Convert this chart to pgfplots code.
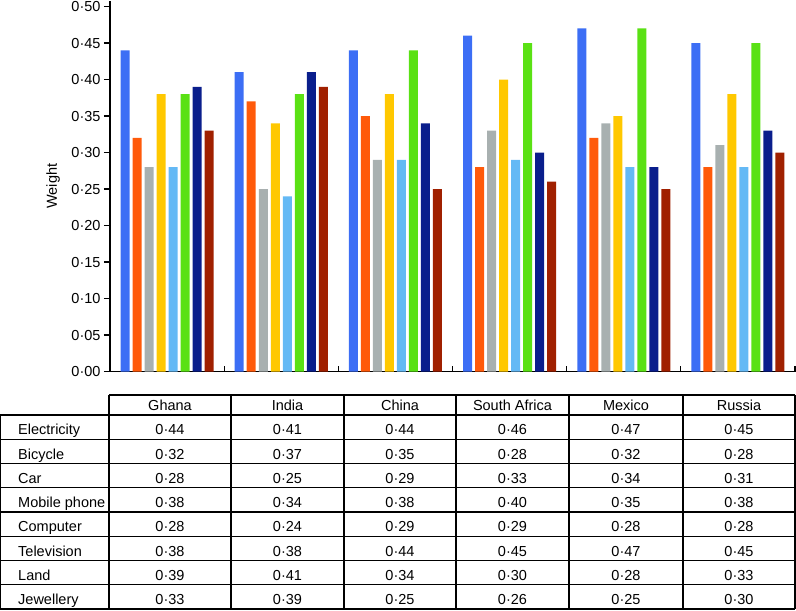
\documentclass[border=0pt]{standalone}
\usepackage{pgfplots}
\pgfplotsset{compat=1.18}
\usepackage{pgfplotstable}
\usepackage{fontspec}
\setmainfont{Liberation Sans}

\definecolor{cElec}{RGB}{60,110,245}
\definecolor{cBike}{RGB}{255,90,10}
\definecolor{cCar}{RGB}{168,176,176}
\definecolor{cMob}{RGB}{255,200,0}
\definecolor{cComp}{RGB}{100,185,245}
\definecolor{cTV}{RGB}{90,225,20}
\definecolor{cLand}{RGB}{10,30,140}
\definecolor{cJew}{RGB}{160,32,0}

\pgfplotstableread{
x elec bike car mobile comp tv land jewel
0 0.44 0.32 0.28 0.38 0.28 0.38 0.39 0.33
1 0.41 0.37 0.25 0.34 0.24 0.38 0.41 0.39
2 0.44 0.35 0.29 0.38 0.29 0.44 0.34 0.25
3 0.46 0.28 0.33 0.40 0.29 0.45 0.30 0.26
4 0.47 0.32 0.34 0.35 0.28 0.47 0.28 0.25
5 0.45 0.28 0.31 0.38 0.28 0.45 0.33 0.30
}\data

\begin{document}
\begin{tikzpicture}[font=\fontsize{14.5}{17}\selectfont]
\useasboundingbox (0pt,0pt) rectangle (796pt,-611pt);
\begin{axis}[
  at={(110pt,-371.5pt)}, anchor=south west,
  scale only axis, width=685pt, height=370.8pt,
  xmin=-0.5, xmax=5.5, ymin=0, ymax=0.508,
  axis lines=left,
  axis line style={-, line width=1.3pt, black},
  ybar=3pt, bar width=9pt,
  ytick={0,0.05,0.10,0.15,0.20,0.25,0.30,0.35,0.40,0.45,0.50},
  yticklabels={0·00,0·05,0·10,0·15,0·20,0·25,0·30,0·35,0·40,0·45,0·50},
  xtick={0.5,1.5,2.5,3.5,4.5,5.5},
  xticklabels={},
  tick align=outside,
  major tick length=6pt,
  tick style={line width=1.3pt, black},
  xtick style={yshift=6pt},
  yticklabel style={font=\fontsize{14.5}{17}\selectfont},
  ylabel={Weight},
  every axis y label/.style={at={(axis description cs:-0.083,0.5)}, rotate=90, anchor=center, font=\fontsize{14.5}{17}\selectfont},
]
\addplot[fill=cElec, draw=none] table[x=x,y=elec]{\data};
\addplot[fill=cBike, draw=none] table[x=x,y=bike]{\data};
\addplot[fill=cCar, draw=none] table[x=x,y=car]{\data};
\addplot[fill=cMob, draw=none] table[x=x,y=mobile]{\data};
\addplot[fill=cComp, draw=none] table[x=x,y=comp]{\data};
\addplot[fill=cTV, draw=none] table[x=x,y=tv]{\data};
\addplot[fill=cLand, draw=none] table[x=x,y=land]{\data};
\addplot[fill=cJew, draw=none] table[x=x,y=jewel]{\data};
\end{axis}

% data table below the chart
\draw[line width=1.2pt] (109pt,-395pt) -- (795pt,-395pt);
\foreach \k in {0,...,8} {
  \pgfmathsetmacro\yy{-415-24.25*\k}
  \draw[line width=1.2pt] (0pt,\yy pt) -- (795pt,\yy pt);
}
\draw[line width=1.2pt] (0.6pt,-415pt) -- (0.6pt,-609pt);
\foreach \xx in {109,231,344,456,569,683,795} {
  \draw[line width=1.2pt] (\xx pt,-395pt) -- (\xx pt,-609pt);
}
\foreach \cc/\name in {170/Ghana,287.5/India,400/China,512.5/South Africa,626/Mexico,739/Russia} {
  \node[anchor=base, inner sep=0pt] at (\cc pt,-410pt) {\name};
}
\foreach \lab/\vals [count=\r] in {
  Electricity/{0·44,0·41,0·44,0·46,0·47,0·45},
  Bicycle/{0·32,0·37,0·35,0·28,0·32,0·28},
  Car/{0·28,0·25,0·29,0·33,0·34,0·31},
  Mobile phone/{0·38,0·34,0·38,0·40,0·35,0·38},
  Computer/{0·28,0·24,0·29,0·29,0·28,0·28},
  Television/{0·38,0·38,0·44,0·45,0·47,0·45},
  Land/{0·39,0·41,0·34,0·30,0·28,0·33},
  Jewellery/{0·33,0·39,0·25,0·26,0·25,0·30}} {
  \pgfmathsetmacro\yb{-415-24.25*\r+4.5}
  \node[anchor=base west, inner sep=0pt] at (18pt,\yb pt) {\lab};
  \foreach \v [count=\c] in \vals {
    \pgfmathsetmacro\xc{{170,287.5,400,512.5,626,739}[\c-1]}
    \node[anchor=base, inner sep=0pt] at (\xc pt,\yb pt) {\v};
  }
}
\end{tikzpicture}
\end{document}
